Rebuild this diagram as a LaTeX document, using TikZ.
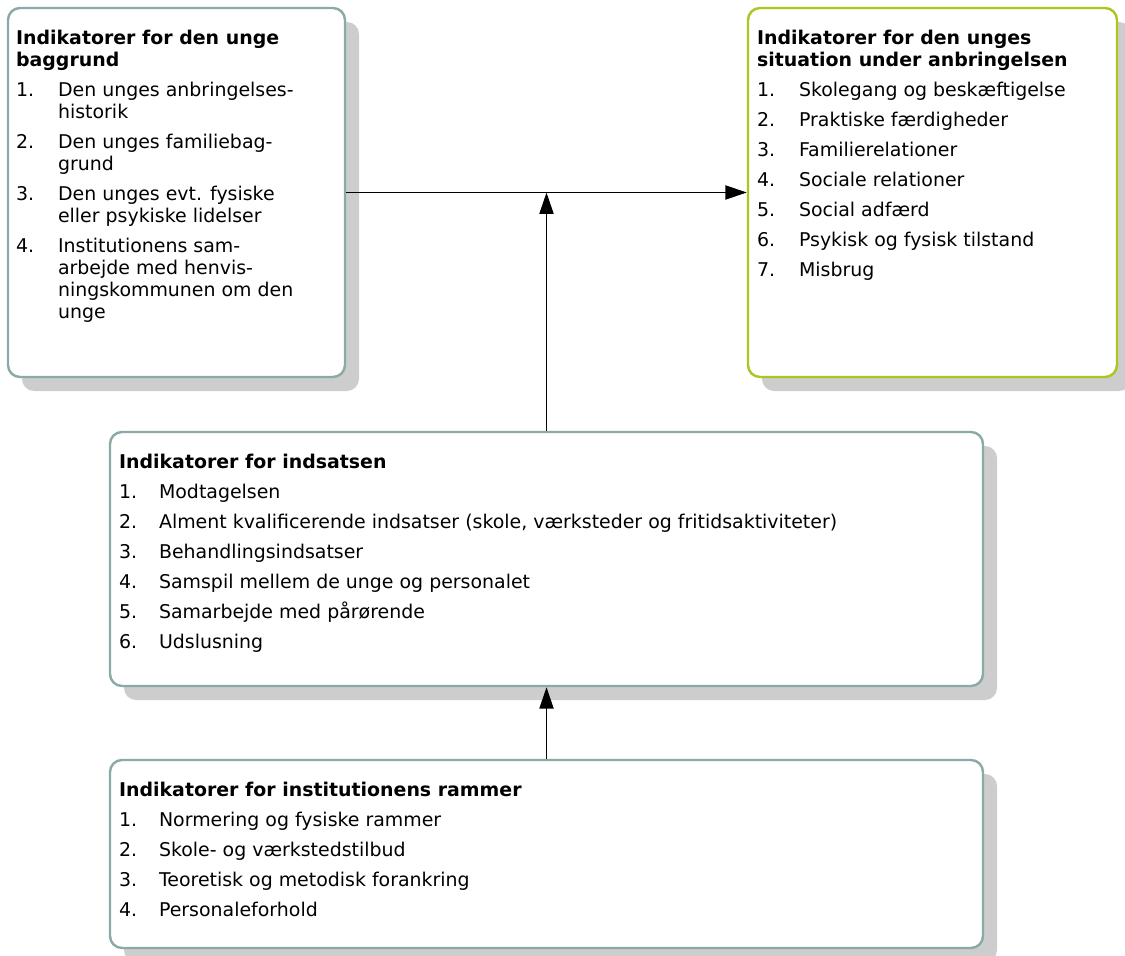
\documentclass[tikz,border=0pt]{standalone}
\usepackage{fontspec}
\setmainfont{DejaVu Sans}
\usetikzlibrary{calc,shadows,arrows.meta}

\definecolor{tealborder}{HTML}{8AAAA7}
\definecolor{limeborder}{HTML}{AFC41C}
\definecolor{shadowgray}{HTML}{CDCDCD}

\newcommand{\li}[1]{\makebox[31.5pt][l]{#1}}
\newcommand{\ind}{\hspace*{31.5pt}}
\newcommand{\nli}[1]{\makebox[30pt][l]{#1}}

\tikzset{
  box/.style={draw=tealborder, line width=1.8pt, rounded corners=9pt, fill=white,
    drop shadow={shadow xshift=10.5pt, shadow yshift=-10.5pt, fill=shadowgray, opacity=1}},
  boxtext/.style={anchor=north west, inner sep=0pt, align=left,
    font=\fontsize{14.2}{16.5}\selectfont},
  link/.style={line width=1.4pt, -{Triangle[length=16pt,width=10.5pt]}}
}

\begin{document}
\begin{tikzpicture}[x=0.75pt,y=-0.75pt]
  \useasboundingbox (0,0) rectangle (1125,956);
  % the four boxes
  \node (A) [box, minimum width=252.75pt, minimum height=276.75pt] at (176.5,192.5) {};
  \node (B) [box, draw=limeborder, minimum width=276.75pt, minimum height=276.75pt] at (932.5,192.5) {};
  \node (C) [box, minimum width=654.75pt, minimum height=190.5pt] at (546.5,559) {};
  \node (D) [box, minimum width=654.75pt, minimum height=141pt] at (546.5,854) {};

  \node (tA) [boxtext] at ($(A.north west)+(9,23.5)$) {%
    \textbf{Indikatorer for den unge}\\\textbf{baggrund}\\[6pt]
    \li{1.}Den unges anbringelses-\\\ind historik\\[6pt]
    \li{2.}Den unges familiebag-\\\ind grund\\[6pt]
    \li{3.}Den unges evt. fysiske\\\ind eller psykiske lidelser\\[6pt]
    \li{4.}Institutionens sam-\\\ind arbejde med henvis-\\\ind ningskommunen om den\\\ind unge};
  \node (tB) [boxtext] at ($(B.north west)+(10,23.5)$) {%
    \textbf{Indikatorer for den unges}\\\textbf{situation under anbringelsen}\\[6pt]
    \li{1.}Skolegang og beskæftigelse\\[6pt]
    \li{2.}Praktiske færdigheder\\[6pt]
    \li{3.}Familierelationer\\[6pt]
    \li{4.}Sociale relationer\\[6pt]
    \li{5.}Social adfærd\\[6pt]
    \li{6.}Psykisk og fysisk tilstand\\[6pt]
    \li{7.}Misbrug};
  \node (tC) [boxtext] at ($(C.north west)+(10,23.5)$) {%
    \textbf{Indikatorer for indsatsen}\\[6pt]
    \nli{1.}Modtagelsen\\[6pt]
    \nli{2.}Alment kvalificerende indsatser (skole, værksteder og fritidsaktiviteter)\\[6pt]
    \nli{3.}Behandlingsindsatser\\[6pt]
    \nli{4.}Samspil mellem de unge og personalet\\[6pt]
    \nli{5.}Samarbejde med pårørende\\[6pt]
    \nli{6.}Udslusning};
  \node (tD) [boxtext] at ($(D.north west)+(10,23.5)$) {%
    \textbf{Indikatorer for institutionens rammer}\\[6pt]
    \nli{1.}Normering og fysiske rammer\\[6pt]
    \nli{2.}Skole- og værkstedstilbud\\[6pt]
    \nli{3.}Teoretisk og metodisk forankring\\[6pt]
    \nli{4.}Personaleforhold};

  % arrows
  \draw[link] (A.east) -- (B.west);
  \coordinate (meet) at (C.north |- A.east);
  \draw[link] (C.north) -- (meet);
  \draw[link] (D.north) -- (C.south);
\end{tikzpicture}
\end{document}
